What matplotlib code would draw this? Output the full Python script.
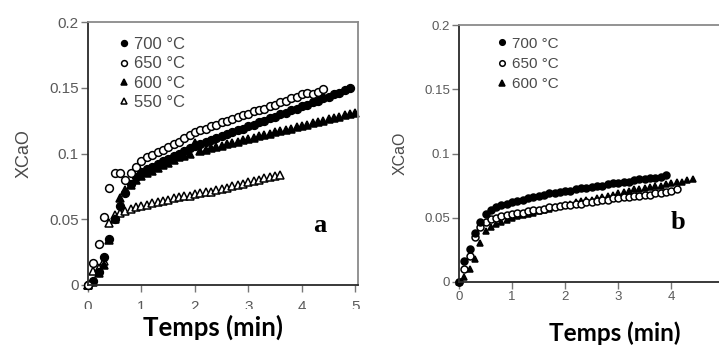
import matplotlib
matplotlib.use("Agg")
import matplotlib.pyplot as plt
from matplotlib.patches import Rectangle

# ---------------- data: panel a ----------------
t_a700 = [0.0, 0.1, 0.2, 0.3, 0.4, 0.5, 0.6, 0.7, 0.8, 0.9,
          1.0, 1.1, 1.2, 1.3, 1.4, 1.5, 1.6, 1.7, 1.8, 1.9,
          2.0, 2.1, 2.2, 2.3, 2.4, 2.5, 2.6, 2.7, 2.8, 2.9,
          3.0, 3.1, 3.2, 3.3, 3.4, 3.5, 3.6, 3.7, 3.8, 3.9,
          4.0, 4.1, 4.2, 4.3, 4.4, 4.5, 4.6, 4.7, 4.8, 4.9]
x_a700 = [0.000, 0.003, 0.010, 0.021, 0.035, 0.050, 0.060, 0.070, 0.077, 0.082,
          0.086, 0.088, 0.090, 0.092, 0.094, 0.096, 0.098, 0.100, 0.102, 0.104,
          0.106, 0.107, 0.109, 0.110, 0.112, 0.113, 0.115, 0.116, 0.118, 0.119,
          0.121, 0.122, 0.124, 0.125, 0.127, 0.128, 0.130, 0.131, 0.133, 0.134,
          0.136, 0.137, 0.139, 0.140, 0.142, 0.143, 0.145, 0.146, 0.148, 0.150]

t_a650 = [0.0, 0.1, 0.2, 0.3, 0.4, 0.5, 0.6, 0.7, 0.8, 0.9,
          1.0, 1.1, 1.2, 1.3, 1.4, 1.5, 1.6, 1.7, 1.8, 1.9,
          2.0, 2.1, 2.2, 2.3, 2.4, 2.5, 2.6, 2.7, 2.8, 2.9,
          3.0, 3.1, 3.2, 3.3, 3.4, 3.5, 3.6, 3.7, 3.8, 3.9,
          4.0, 4.1, 4.2, 4.3, 4.4]
x_a650 = [0.000, 0.017, 0.031, 0.052, 0.074, 0.085, 0.085, 0.080, 0.085, 0.090,
          0.094, 0.097, 0.099, 0.101, 0.103, 0.105, 0.107, 0.109, 0.112, 0.114,
          0.116, 0.118, 0.119, 0.121, 0.122, 0.124, 0.125, 0.126, 0.128, 0.129,
          0.130, 0.132, 0.133, 0.134, 0.136, 0.137, 0.139, 0.140, 0.142, 0.143,
          0.145, 0.146, 0.145, 0.147, 0.149]

t_a600 = [0.0, 0.1, 0.2, 0.3, 0.4, 0.5, 0.6, 0.7, 0.8, 0.9,
          1.0, 1.1, 1.2, 1.3, 1.4, 1.5, 1.6, 1.7, 1.8, 1.9,
          2.0, 2.1, 2.2, 2.3, 2.4, 2.5, 2.6, 2.7, 2.8, 2.9,
          3.0, 3.1, 3.2, 3.3, 3.4, 3.5, 3.6, 3.7, 3.8, 3.9,
          4.0, 4.1, 4.2, 4.3, 4.4, 4.5, 4.6, 4.7, 4.8, 4.9, 5.0]
x_a600 = [0.000, 0.002, 0.009, 0.015, 0.034, 0.050, 0.066, 0.072, 0.076, 0.080,
          0.083, 0.085, 0.087, 0.089, 0.091, 0.093, 0.095, 0.097, 0.098, 0.100,
          0.108, 0.102, 0.103, 0.104, 0.105, 0.106, 0.107, 0.108, 0.109, 0.110,
          0.111, 0.112, 0.113, 0.114, 0.115, 0.116, 0.117, 0.118, 0.119, 0.120,
          0.121, 0.122, 0.123, 0.124, 0.125, 0.126, 0.127, 0.128, 0.129, 0.130, 0.131]

t_a550 = [0.0, 0.1, 0.2, 0.3, 0.4, 0.5, 0.6, 0.7, 0.8, 0.9,
          1.0, 1.1, 1.2, 1.3, 1.4, 1.5, 1.6, 1.7, 1.8, 1.9,
          2.0, 2.1, 2.2, 2.3, 2.4, 2.5, 2.6, 2.7, 2.8, 2.9,
          3.0, 3.1, 3.2, 3.3, 3.4, 3.5, 3.6]
x_a550 = [0.000, 0.011, 0.013, 0.018, 0.047, 0.053, 0.055, 0.056, 0.058, 0.059,
          0.060, 0.061, 0.062, 0.063, 0.064, 0.065, 0.066, 0.067, 0.068, 0.068,
          0.069, 0.070, 0.071, 0.071, 0.072, 0.073, 0.074, 0.075, 0.076, 0.077,
          0.078, 0.079, 0.080, 0.081, 0.082, 0.083, 0.084]

# ---------------- data: panel b ----------------
t_b700 = [0.0, 0.1, 0.2, 0.3, 0.4, 0.5, 0.6, 0.7, 0.8, 0.9,
          1.0, 1.1, 1.2, 1.3, 1.4, 1.5, 1.6, 1.7, 1.8, 1.9,
          2.0, 2.1, 2.2, 2.3, 2.4, 2.5, 2.6, 2.7, 2.8, 2.9,
          3.0, 3.1, 3.2, 3.3, 3.4, 3.5, 3.6, 3.7, 3.8, 3.9]
x_b700 = [0.000, 0.016, 0.026, 0.038, 0.047, 0.053, 0.056, 0.058, 0.060, 0.061,
          0.062, 0.063, 0.064, 0.065, 0.066, 0.067, 0.068, 0.069, 0.069, 0.070,
          0.071, 0.071, 0.072, 0.073, 0.073, 0.074, 0.075, 0.075, 0.076, 0.077,
          0.077, 0.078, 0.078, 0.079, 0.080, 0.080, 0.081, 0.081, 0.082, 0.083]

t_b650 = [0.0, 0.1, 0.2, 0.3, 0.4, 0.5, 0.6, 0.7, 0.8, 0.9,
          1.0, 1.1, 1.2, 1.3, 1.4, 1.5, 1.6, 1.7, 1.8, 1.9,
          2.0, 2.1, 2.2, 2.3, 2.4, 2.5, 2.6, 2.7, 2.8, 2.9,
          3.0, 3.1, 3.2, 3.3, 3.4, 3.5, 3.6, 3.7, 3.8, 3.9,
          4.0, 4.1]
x_b650 = [0.000, 0.010, 0.020, 0.035, 0.043, 0.047, 0.049, 0.050, 0.051, 0.052,
          0.053, 0.054, 0.054, 0.055, 0.056, 0.056, 0.057, 0.058, 0.058, 0.059,
          0.060, 0.060, 0.061, 0.061, 0.062, 0.062, 0.063, 0.064, 0.064, 0.065,
          0.065, 0.066, 0.066, 0.067, 0.067, 0.068, 0.068, 0.069, 0.069, 0.070,
          0.071, 0.072]

t_b600 = [0.0, 0.1, 0.2, 0.3, 0.4, 0.5, 0.6, 0.7, 0.8, 0.9,
          1.0, 1.1, 1.2, 1.3, 1.4, 1.5, 1.6, 1.7, 1.8, 1.9,
          2.0, 2.1, 2.2, 2.3, 2.4, 2.5, 2.6, 2.7, 2.8, 2.9,
          3.0, 3.1, 3.2, 3.3, 3.4, 3.5, 3.6, 3.7, 3.8, 3.9,
          4.0, 4.1, 4.2, 4.3, 4.4]
x_b600 = [0.000, 0.004, 0.010, 0.018, 0.030, 0.040, 0.043, 0.045, 0.047, 0.048,
          0.050, 0.051, 0.052, 0.053, 0.054, 0.055, 0.056, 0.057, 0.058, 0.059,
          0.060, 0.061, 0.062, 0.063, 0.064, 0.064, 0.065, 0.066, 0.067, 0.068,
          0.069, 0.070, 0.071, 0.072, 0.072, 0.073, 0.074, 0.075, 0.075, 0.076,
          0.077, 0.078, 0.078, 0.079, 0.080]

labels_a = ["700 °C", "650 °C", "600 °C", "550 °C"]
labels_b = ["700 °C", "650 °C", "600 °C"]
yticks = [0, 0.05, 0.1, 0.15, 0.2]
yticklabels = ["0", "0.05", "0.1", "0.15", "0.2"]
xticks = [0, 1, 2, 3, 4, 5]
xlabel = "Temps (min)"
ylabel = "XCaO"

# ---------------- styling ----------------
plt.rcParams["font.family"] = ["Liberation Sans", "DejaVu Sans"]
W, H = 719, 352
fig = plt.figure(figsize=(W / 100, H / 100), dpi=100)
fig.patch.set_facecolor("white")

tick_col = "#5a5a5a"

styles = {
    "700": dict(marker="o", mfc="black", mec="black"),
    "650": dict(marker="o", mfc="white", mec="black"),
    "600": dict(marker="^", mfc="black", mec="black"),
    "550": dict(marker="^", mfc="white", mec="black"),
}


def style_axes(ax, tick_fs, xpad):
    ax.set_xlim(0, 5.05)
    ax.set_ylim(0, 0.2)
    ax.set_xticks(xticks)
    ax.set_yticks(yticks)
    ax.set_yticklabels(yticklabels)
    ax.tick_params(direction="out", length=5, width=1, colors="#777777",
                   labelcolor=tick_col, labelsize=tick_fs, pad=1.5)
    ax.tick_params(axis="x", pad=xpad)
    for side in ("left", "bottom"):
        ax.spines[side].set_color("#2a2a2a")
        ax.spines[side].set_linewidth(1.3)
    for side in ("top", "right"):
        ax.spines[side].set_color("#8a8a8a")
        ax.spines[side].set_linewidth(1.3)


def draw(ax, t, x, key, ms, label):
    st = styles[key]
    ax.plot(t, x, linestyle="none", marker=st["marker"], markersize=ms,
            markerfacecolor=st["mfc"], markeredgecolor=st["mec"],
            markeredgewidth=1.1, clip_on=False, label=label)


# panel a
ax_a = fig.add_axes([88 / W, 1 - 285 / H, 270 / W, 263 / H])
style_axes(ax_a, 11, 5.5)
draw(ax_a, t_a550, x_a550, "550", 5.6, labels_a[3])
draw(ax_a, t_a600, x_a600, "600", 5.6, labels_a[2])
draw(ax_a, t_a700, x_a700, "700", 5.6, labels_a[0])
draw(ax_a, t_a650, x_a650, "650", 5.6, labels_a[1])
h, l = ax_a.get_legend_handles_labels()
order = [l.index(s) for s in labels_a]
leg = ax_a.legend([h[i] for i in order], [l[i] for i in order],
                  loc="upper left", bbox_to_anchor=(0.095, 0.968), frameon=False,
                  handlelength=0.5, handletextpad=0.35, labelspacing=0.26,
                  borderaxespad=0, fontsize=12, markerscale=0.75)
for txt in leg.get_texts():
    txt.set_color("#4a4a4a")
ax_a.text(0.86, 0.225, "a", transform=ax_a.transAxes, fontsize=19,
          fontweight="bold", family="Liberation Serif", ha="center", va="center")
ax_a.set_ylabel(ylabel, fontsize=13, color="#4a4a4a", labelpad=12)

# panel b
ax_b = fig.add_axes([459 / W, 1 - 282 / H, 268 / W, 257 / H])
style_axes(ax_b, 9.5, 1.5)
draw(ax_b, t_b600, x_b600, "600", 5.0, labels_b[2])
draw(ax_b, t_b650, x_b650, "650", 5.0, labels_b[1])
draw(ax_b, t_b700, x_b700, "700", 5.0, labels_b[0])
h, l = ax_b.get_legend_handles_labels()
order = [l.index(s) for s in labels_b]
leg = ax_b.legend([h[i] for i in order], [l[i] for i in order],
                  loc="upper left", bbox_to_anchor=(0.125, 0.978), frameon=False,
                  handlelength=0.5, handletextpad=0.35, labelspacing=0.4,
                  borderaxespad=0, fontsize=11, markerscale=0.8)
for txt in leg.get_texts():
    txt.set_color("#4a4a4a")
ax_b.text(0.817, 0.23, "b", transform=ax_b.transAxes, fontsize=19,
          fontweight="bold", family="Liberation Serif", ha="center", va="center")
ax_b.set_ylabel(ylabel, fontsize=11.5, color="#4a4a4a", labelpad=12)

# the bottom strip under panel a hides the lower half of its tick labels
fig.add_artist(Rectangle((0, 0), 0.5, 1 - 309 / H, transform=fig.transFigure,
                         facecolor="white", edgecolor="none", zorder=5))

fig.text(213 / W, 1 - 327 / H, xlabel, ha="center", va="center",
         fontsize=18.5, fontweight="bold", family=["Lato", "DejaVu Sans"],
         zorder=6)
fig.text(615 / W, 1 - 333 / H, xlabel, ha="center", va="center",
         fontsize=17.5, fontweight="bold", family=["Lato", "DejaVu Sans"],
         zorder=6)

fig.savefig("out.png", dpi=100, facecolor="white")
